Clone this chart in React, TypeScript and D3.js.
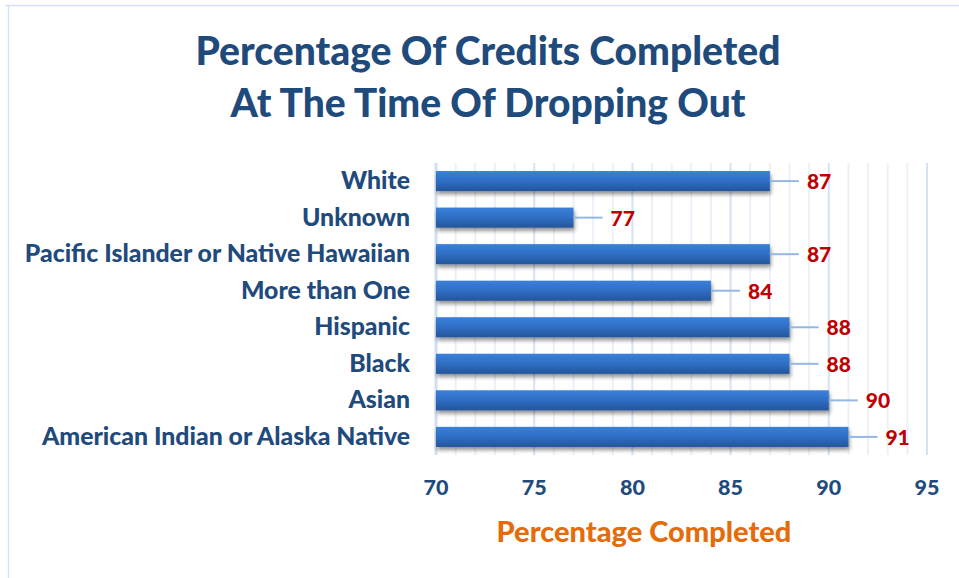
import React from "react";
import * as d3 from "d3";

const categories = [
  "White",
  "Unknown",
  "Pacific Islander or Native Hawaiian",
  "More than One",
  "Hispanic",
  "Black",
  "Asian",
  "American Indian or Alaska Native",
];
const values = [87, 77, 87, 84, 88, 88, 90, 91];
const xTicks = [70, 75, 80, 85, 90, 95];
const minorTicks = d3.range(70, 96, 1);

const W = 959;
const H = 578;
const left = 436;
const right = 927;
const top = 163;
const bottom = 455;
const FONT = "Lato, 'Open Sans', sans-serif";
const WT = 900;

export default function App() {
  const x = d3.scaleLinear().domain([70, 95]).range([left, right]);
  const y = d3.scaleBand<string>().domain(categories).range([top, bottom]).paddingInner(0.45).paddingOuter(0.22);
  return (
    <svg width={W} height={H} style={{ position: "absolute", left: 0, top: 0 }}>
      <defs>
        <linearGradient id="barg" x1="0" y1="0" x2="0" y2="1">
          <stop offset="0" stopColor="#3A80DA" />
          <stop offset="0.5" stopColor="#2F6EC4" />
          <stop offset="1" stopColor="#245599" />
        </linearGradient>
        <filter id="shadow" x="-5%" y="-30%" width="110%" height="180%">
          <feGaussianBlur in="SourceAlpha" stdDeviation="2" />
          <feOffset dx="1" dy="3" result="b" />
          <feComponentTransfer><feFuncA type="linear" slope="0.45" /></feComponentTransfer>
          <feMerge><feMergeNode /><feMergeNode in="SourceGraphic" /></feMerge>
        </filter>
      </defs>
      <rect x={0} y={0} width={W} height={H} fill="#fff" />
      <line x1={5} y1={5.5} x2={W} y2={5.5} stroke="#D6E2F2" strokeWidth={1.5} />
      <line x1={8.5} y1={5} x2={8.5} y2={H} stroke="#D6E2F2" strokeWidth={1.5} />
      <text x={488} y={65} textAnchor="middle" fontFamily={FONT} fontWeight={WT} fontSize={39} fill="#1F4A7C">
        Percentage Of Credits Completed
      </text>
      <text x={488} y={117} textAnchor="middle" fontFamily={FONT} fontWeight={WT} fontSize={39} fill="#1F4A7C">
        At The Time Of Dropping Out
      </text>
      {minorTicks.filter((t) => t % 5 !== 0).map((t) => (
        <line key={"m" + t} x1={x(t)} x2={x(t)} y1={top} y2={bottom} stroke="#EBF1F9" strokeWidth={2} />
      ))}
      {xTicks.map((t) => (
        <line key={"M" + t} x1={x(t)} x2={x(t)} y1={top} y2={bottom} stroke="#D5E2F3" strokeWidth={2} />
      ))}
      <line x1={left} x2={left} y1={top} y2={bottom} stroke="#D0DFF2" strokeWidth={3} />
      {categories.map((c, i) => {
        const yy = y(c)!;
        const bh = y.bandwidth();
        const cy = yy + bh / 2;
        const xe = x(values[i]);
        return (
          <g key={c}>
            <rect x={left} y={yy} width={xe - left} height={bh} fill="url(#barg)" filter="url(#shadow)" />
            <line x1={xe} x2={xe + 29} y1={cy} y2={cy} stroke="#95B8E3" strokeWidth={2} />
            <text x={xe + 37} y={cy + 8} fontFamily={FONT} fontWeight={WT} fontSize={21} fill="#C00000">
              {values[i]}
            </text>
            <text x={410} y={cy + 8} textAnchor="end" fontFamily={FONT} fontWeight={WT} fontSize={24.8} fill="#1F4A7C">
              {c}
            </text>
          </g>
        );
      })}
      {xTicks.map((t) => (
        <text key={"t" + t} x={x(t)} y={495} textAnchor="middle" fontFamily={FONT} fontWeight={WT} fontSize={21.5} fill="#1F4A7C">
          {t}
        </text>
      ))}
      <text x={644} y={542} textAnchor="middle" fontFamily={FONT} fontWeight={WT} fontSize={29} fill="#E46C0A">
        Percentage Completed
      </text>
    </svg>
  );
}
